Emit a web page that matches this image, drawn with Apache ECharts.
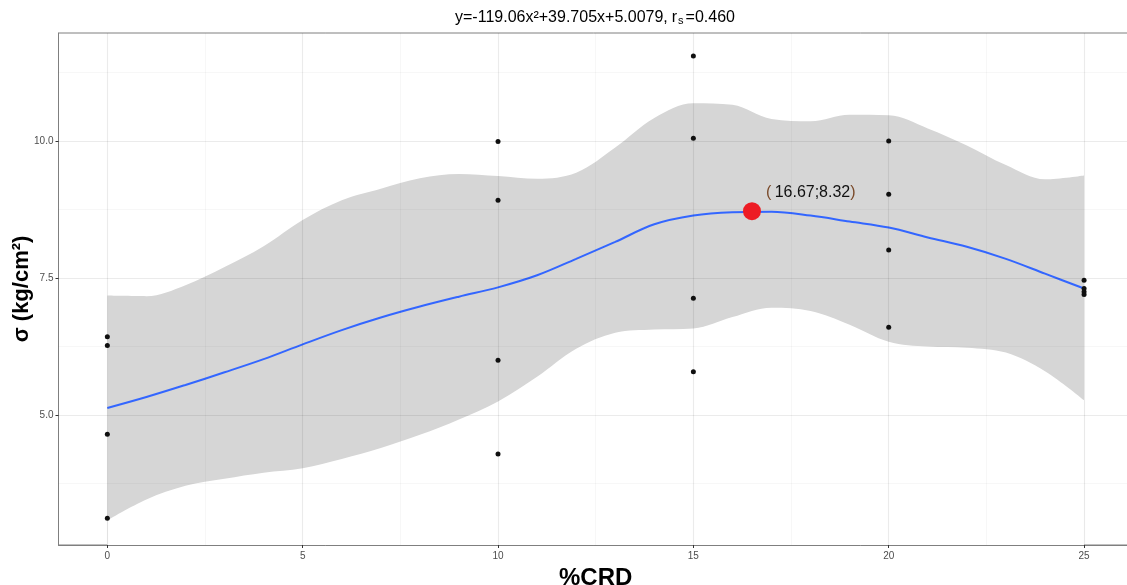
<!DOCTYPE html>
<html>
<head>
<meta charset="utf-8">
<script src="https://cdn.jsdelivr.net/npm/echarts@6/dist/echarts.min.js"></script>
<style>
html,body{margin:0;padding:0;background:#fff;}
#chart{width:1127px;height:585px;}
</style>
</head>
<body>
<div id="chart"></div>
<script>
// ---- data ----
const xTickValues = [0, 5, 10, 15, 20, 25];
const xMinorGrid = [2.5, 7.5, 12.5, 17.5, 22.5];
const yTickValues = [5, 7.5, 10];
const yMinorGrid = [3.75, 6.25, 8.75, 11.25];

const pointX = [0, 0, 0, 0, 10, 10, 10, 10, 15, 15, 15, 15, 20, 20, 20, 20, 25, 25, 25, 25];
const pointY = [6.43, 6.27, 4.65, 3.12, 9.99, 8.92, 6.00, 4.29, 11.55, 10.05, 7.13, 5.79, 10.00, 9.03, 8.01, 6.60, 7.46, 7.31, 7.25, 7.20];

const fitX = [0, 1, 2, 3, 4, 5, 6, 7, 8, 9, 10, 11, 12, 13, 14, 15, 16, 17, 18, 19, 20, 21, 22, 23, 24, 25];
const fitY = [5.13, 5.33, 5.55, 5.78, 6.02, 6.29, 6.55, 6.78, 6.98, 7.16, 7.33, 7.55, 7.85, 8.16, 8.48, 8.64, 8.70, 8.71, 8.64, 8.53, 8.42, 8.24, 8.07, 7.85, 7.58, 7.31];
const bandUpper = [7.18, 7.17, 7.37, 7.70, 8.08, 8.56, 8.92, 9.13, 9.32, 9.40, 9.36, 9.31, 9.42, 9.88, 10.42, 10.69, 10.66, 10.40, 10.36, 10.48, 10.47, 10.23, 9.92, 9.56, 9.30, 9.37];
const bandLower = [3.08, 3.46, 3.71, 3.84, 3.95, 4.03, 4.20, 4.40, 4.64, 4.92, 5.25, 5.70, 6.21, 6.50, 6.56, 6.58, 6.79, 6.96, 6.90, 6.65, 6.34, 6.25, 6.23, 6.14, 5.80, 5.27];

const peakPoint = [16.5, 8.72];
const peakLabel = '16.67;8.32';

const titleText = 'y=-119.06x²+39.705x+5.0079,';
const xName = '%CRD';
const yName = 'σ (kg/cm²)';

// ---- chart ----
const chart = echarts.init(document.getElementById('chart'), null, {renderer: 'canvas'});
const FONT = 'Liberation Sans, Arial, sans-serif';

const gridLines = []
  .concat(xTickValues.map(v => ({xAxis: v, lineStyle: {color: 'rgba(0,0,0,0.08)', width: 1.1, type: 'solid'}})))
  .concat(xMinorGrid.map(v => ({xAxis: v, lineStyle: {color: 'rgba(0,0,0,0.045)', width: 0.8, type: 'solid'}})))
  .concat(yTickValues.map(v => ({yAxis: v, lineStyle: {color: 'rgba(0,0,0,0.08)', width: 1.1, type: 'solid'}})))
  .concat(yMinorGrid.map(v => ({yAxis: v, lineStyle: {color: 'rgba(0,0,0,0.045)', width: 0.8, type: 'solid'}})));

const option = {
  animation: false,
  backgroundColor: '#ffffff',
  textStyle: {fontFamily: FONT},
  grid: {
    left: 58.5, top: 33, width: 1074.4, height: 512,
    show: true, borderColor: '#7f7f7f', borderWidth: 1,
    containLabel: false, outerBoundsMode: 'none'
  },
  graphic: [{
    type: 'text', x: 595, y: 18, z: 100,
    style: {
      text: '{a|' + titleText + '}{r|r}{s|s}{a|=0.460}',
      align: 'center', verticalAlign: 'middle',
      rich: {
        a: {fontSize: 16, fontFamily: FONT, fill: '#000', color: '#000'},
        r: {fontSize: 16, fontFamily: FONT, fill: '#000', color: '#000', padding: [0, 0, 0, 4]},
        s: {fontSize: 11, fontFamily: FONT, fill: '#000', color: '#000', padding: [6, 2, 0, 1]}
      }
    }
  }],
  xAxis: {
    type: 'value', min: -1.25, max: 26.25,
    name: xName, nameLocation: 'middle', nameGap: 21, nameMoveOverlap: false,
    nameTextStyle: {fontSize: 24, fontWeight: 'bold', color: '#000', fontFamily: FONT},
    axisLine: {show: true, onZero: false, lineStyle: {color: '#7f7f7f', width: 1}},
    axisTick: {show: true, length: 3, customValues: xTickValues, lineStyle: {color: '#333333'}},
    axisLabel: {customValues: xTickValues, color: '#4d4d4d', fontSize: 10, margin: 6},
    splitLine: {show: false}
  },
  yAxis: {
    type: 'value', min: 2.63, max: 11.97,
    name: yName, nameLocation: 'middle', nameGap: 26, nameRotate: 90, nameMoveOverlap: false,
    nameTextStyle: {fontSize: 22, fontWeight: 'bold', color: '#000', fontFamily: FONT},
    axisLine: {show: true, onZero: false, lineStyle: {color: '#7f7f7f', width: 1}},
    axisTick: {show: true, length: 3, customValues: yTickValues, lineStyle: {color: '#333333'}},
    axisLabel: {customValues: yTickValues, color: '#4d4d4d', fontSize: 10, margin: 5,
      formatter: v => v.toFixed(1)},
    splitLine: {show: false}
  },
  series: [
    {
      // confidence band: upper edge filled down to the axis minimum ...
      name: 'bandUpper', type: 'line', smooth: 0.35, symbol: 'none', z: 1, silent: true,
      lineStyle: {opacity: 0},
      areaStyle: {color: '#d6d6d6', opacity: 1, origin: 'start'},
      data: fitX.map((x, i) => [x, bandUpper[i]])
    },
    {
      // ... and the part under the lower edge masked back to the panel colour
      name: 'bandLower', type: 'line', smooth: 0.35, symbol: 'none', z: 1.5, silent: true,
      lineStyle: {opacity: 0},
      areaStyle: {color: '#ffffff', opacity: 1, origin: 'start'},
      data: fitX.map((x, i) => [x, bandLower[i]])
    },
    {
      name: 'grid', type: 'line', data: [], z: 2, silent: true,
      markLine: {silent: true, symbol: 'none', label: {show: false}, animation: false, data: gridLines}
    },
    {
      name: 'fit', type: 'line', smooth: 0.35, symbol: 'none', z: 3, silent: true,
      lineStyle: {color: '#3366ff', width: 2},
      data: fitX.map((x, i) => [x, fitY[i]])
    },
    {
      name: 'points', type: 'scatter', symbol: 'circle', symbolSize: 5, z: 4, silent: true,
      itemStyle: {color: '#111111', opacity: 1, borderWidth: 0},
      data: pointX.map((x, i) => [x, pointY[i]])
    },
    {
      name: 'peak', type: 'scatter', symbol: 'circle', symbolSize: 18, z: 5, silent: true,
      itemStyle: {color: '#ed1c24', opacity: 1, borderWidth: 0},
      label: {
        show: true, position: 'right', distance: 5, offset: [0, -19],
        formatter: '{p|(} {t|' + peakLabel + '}{p|)}',
        rich: {
          p: {color: '#7a4a2a', fontSize: 16, fontFamily: FONT},
          t: {color: '#111111', fontSize: 16, fontFamily: FONT}
        }
      },
      data: [peakPoint]
    }
  ]
};
chart.setOption(option);
</script>
</body>
</html>
